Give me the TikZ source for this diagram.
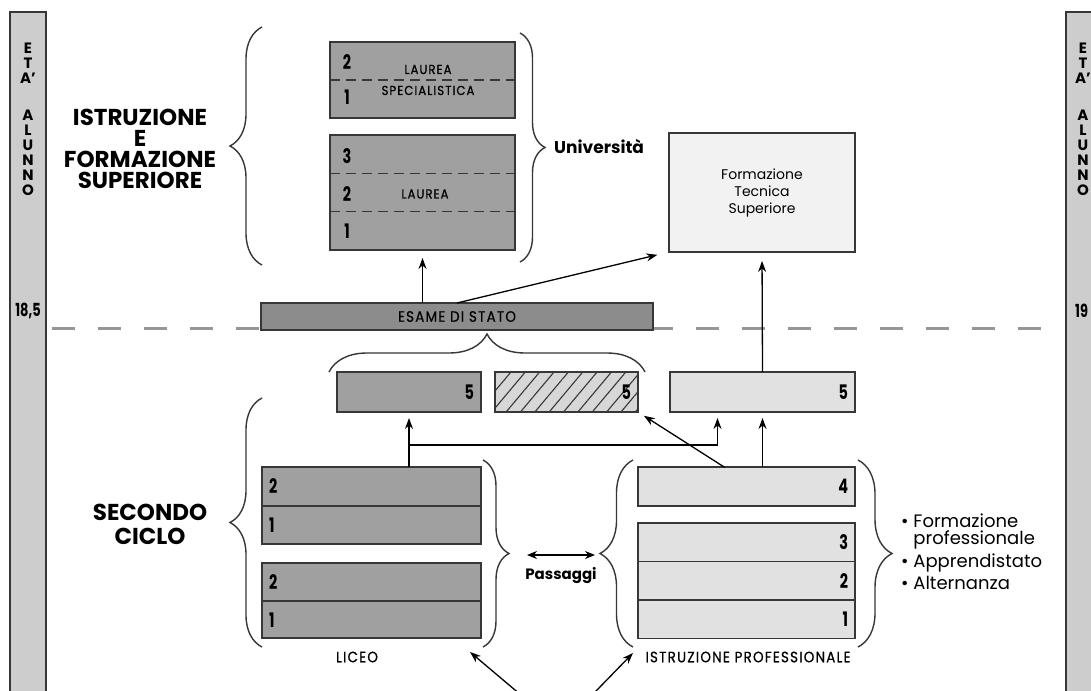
\documentclass[tikz,border=0pt]{standalone}
\usepackage{fontspec}
\usepackage{tikz}
\setmainfont{Poppins}
\newfontfamily\condfont[FakeStretch=0.72]{Poppins}
\newfontfamily\labfont[FakeStretch=0.9, FakeBold=0.6, LetterSpace=8]{Poppins}
\usetikzlibrary{arrows.meta, positioning, calc, decorations.pathreplacing, patterns.meta}
\definecolor{cBar}{RGB}{205,205,205}
\definecolor{cDark}{RGB}{160,160,160}
\definecolor{cExam}{RGB}{140,140,140}
\definecolor{cLight}{RGB}{225,225,225}
\definecolor{cHatch}{RGB}{215,215,215}
\definecolor{cPale}{RGB}{242,242,242}
\definecolor{cLine}{RGB}{55,55,55}
\definecolor{cDash}{RGB}{150,150,150}
\tikzset{
	box/.style     ={rectangle, draw=cLine, line width=1.6pt, inner sep=0pt, outer sep=0pt},
	darkbox/.style ={box, fill=cDark},
	lightbox/.style={box, fill=cLight},
	hatchbox/.style={box, preaction={fill=cHatch}, pattern={Lines[angle=50, distance=11pt, line width=1.1pt]}, pattern color=cLine},
	numtxt/.style  ={font=\condfont\bfseries\fontsize{20}{20}\selectfont},
	rowleft/.style ={darkbox, numtxt, minimum height=38.5pt, text width=205pt, inner xsep=7pt, align=left},
	rowright/.style={lightbox, numtxt, minimum height=38.5pt, text width=203pt, inner xsep=7pt, align=right},
	fifth/.style   ={numtxt, minimum height=40pt, text width=#1, inner xsep=7pt, align=right},
	lbltxt/.style  ={font=\labfont\fontsize{15}{16}\selectfont, inner sep=0pt},
	headtxt/.style ={font=\bfseries\fontsize{23}{21}\selectfont, align=center, inner sep=0pt},
	bartxt/.style  ={font=\bfseries\fontsize{15}{15}\selectfont, align=center, inner sep=0pt},
	agetxt/.style  ={font=\condfont\bfseries\fontsize{18}{18}\selectfont, inner sep=0pt},
	% lines and braces
	bar/.style     ={fill=cBar, draw=cLine, line width=1.4pt},
	ageline/.style ={cDash, line width=3pt, dash pattern=on 23pt off 23pt},
	divide/.style  ={cLine, line width=1.3pt, dash pattern=on 10pt off 6pt},
	brc/.style     ={decorate, decoration={brace, amplitude=#1}, cLine, line width=1.4pt},
	sig/.style     ={-{Stealth[length=11pt, width=8pt]}, line width=1.3pt},
	dsig/.style    ={{Stealth[length=10pt, width=8pt]}-{Stealth[length=10pt, width=8pt]}, line width=1.3pt},
}
\begin{document}
\begin{tikzpicture}[x=1pt, y=-1pt, font=\fontsize{14}{17}\selectfont]
	\path[use as bounding box, clip] (0,0) rectangle (1091,690);
	\fill[white] (0,0) rectangle (1091,690);
	% age bars
	\draw[bar] (10,12) rectangle (46,700);
	\draw[bar] (1066,12) rectangle (1112,700);
	\node[bartxt, anchor=north] (etaL) at (28,43) {E\\T\\A'\\[22pt]A\\L\\U\\N\\N\\O};
	\node[bartxt, anchor=north] (etaR) at (1083,43) {E\\T\\A'\\[22pt]A\\L\\U\\N\\N\\O};
	\node[agetxt] (ageL) at (28,311) {18,5};
	\node[agetxt, anchor=west] (ageR) at (1075,311) {19};
	\draw[ageline] (52,328) -- (1062,328);
	% university
	\node[darkbox, minimum width=185pt, minimum height=76pt] (lausp) at (422.5,80) {};
	\node[darkbox, minimum width=185pt, minimum height=115pt] (lau) at (422.5,192.5) {};
	\draw[divide] (lausp.west) -- (lausp.east);
	\draw[divide] ($(lau.north west)!1/3!(lau.south west)$) -- ($(lau.north east)!1/3!(lau.south east)$);
	\draw[divide] ($(lau.north west)!2/3!(lau.south west)$) -- ($(lau.north east)!2/3!(lau.south east)$);
	\node[numtxt] at (347,62) {2};
	\node[numtxt] at (347,97) {1};
	\node[numtxt] at (347,156) {3};
	\node[numtxt] at (347,194) {2};
	\node[numtxt] at (347,231) {1};
	\node[lbltxt, align=center, font=\labfont\fontsize{13}{21}\selectfont] (lauspT) at (428,80) {LAUREA\\SPECIALISTICA};
	\node[lbltxt, font=\labfont\fontsize{13}{16}\selectfont] (lauT) at (425,194) {LAUREA};
	\node[box, fill=cPale, line width=2.4pt, minimum width=186pt, minimum height=119pt, align=center] (fts) at (762,192.5) {Formazione\\Tecnica\\Superiore};
	% esame
	\node[box, fill=cExam, minimum width=392pt, minimum height=27pt, lbltxt] (esame) at (457,316.5) {ESAME DI STATO};
	% fifth year
	\node[darkbox, fifth=130pt] (l5) at (409,392) {5};
	\node[hatchbox, fifth=129pt] (hb) at (566.5,392) {5};
	\node[lightbox, fifth=171pt] (p5) at (762.5,392) {5};
	% liceo
	\node[rowleft] (lic2a) at (371.5,486.5) {2};
	\node[rowleft, below=0pt of lic2a] (lic1a) {1};
	\node[rowleft] (lic2b) at (371.5,582) {2};
	\node[rowleft, below=0pt of lic2b, minimum height=37pt] (lic1b) {1};
	% istruzione professionale
	\node[rowright] (p4) at (746.5,486.5) {4};
	\node[rowright] (p3) at (746.5,542.25) {3};
	\node[rowright, below=0pt of p3] (p2) {2};
	\node[rowright, below=0pt of p2] (p1) {1};
	% braces
	\draw[brc=32pt] (262,265) -- (262,27);
	\draw[brc=25pt] (520,33) -- (520,262);
	\draw[brc=38pt] (329,372) -- (645,372);
	\draw[brc=32pt] (262,647) -- (262,398);
	\draw[brc=26pt] (483,460) -- (483,647);
	\draw[brc=33pt] (633,647) -- (633,460);
	\draw[brc=34pt] (858,460) -- (858,647);
	% labels
	\node[headtxt] (sup) at (140,149) {ISTRUZIONE\\E\\FORMAZIONE\\SUPERIORE};
	\node[headtxt, font=\bfseries\fontsize{23}{24}\selectfont] (sec) at (150,524) {SECONDO\\CICLO};
	\node[font=\bfseries\fontsize{17}{17}\selectfont, anchor=west, inner sep=0pt] (uni) at (554,147) {Università};
	\node[lbltxt] (liceo) at (357,657) {LICEO};
	\node[lbltxt] (iprof) at (748,657) {ISTRUZIONE PROFESSIONALE};
	\node[font=\bfseries\fontsize{15}{15}\selectfont, inner sep=0pt] (pas) at (561,576) {Passaggi};
	\node[font=\fontsize{18}{17}\selectfont, align=left, anchor=west, inner sep=0pt] (canali) at (901,552) {\textbullet\ Formazione\\\phantom{\textbullet\ }professionale\\[4pt]\textbullet\ Apprendistato\\[3pt]\textbullet\ Alternanza};
	% arrows
	\draw[sig, shorten >=8pt] (lau.south |- esame.north) -- (lau.south);
	\draw[sig, shorten >=12pt] (esame.north) -- (fts.south west);
	\draw[sig, shorten >=9pt] (p5.north) -- (fts.south);
	\draw[sig, shorten >=6pt] (l5.south |- lic2a.north) -- (l5.south);
	\draw[sig, shorten >=6pt] (l5.south |- 0,445) -| ([xshift=-45pt]p5.south);
	\draw[sig, shorten >=7pt] ([xshift=-22pt]p4.north) -- (hb.south east);
	\draw[sig, shorten >=6pt] (p5.south |- p4.north) -- (p5.south);
	\coordinate (pasL) at (527,555);
	\coordinate (pasR) at (595,555);
	\draw[dsig] (pasL) -- (pasR);
	\coordinate (src) at (560,728);
	\coordinate (licE) at (470,652);
	\coordinate (proE) at (633,653);
	\draw[sig] (src) -- (licE);
	\draw[sig] (src) -- (proE);
\end{tikzpicture}
\end{document}
